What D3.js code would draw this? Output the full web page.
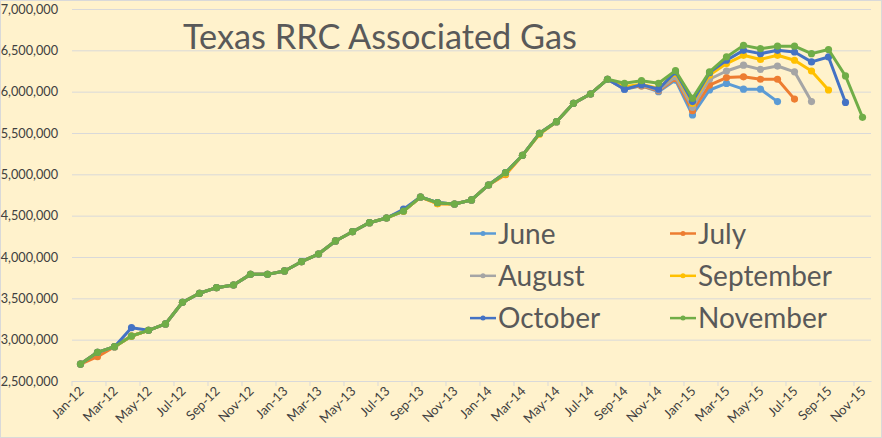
<!doctype html>
<html lang="en">
  <head>
    <meta charset="UTF-8" />
    <title>Texas RRC Associated Gas</title>
    <style>
      body {
        margin: 0;
        overflow: hidden;
        background: #fff;
      }
      svg {
        display: block;
      }
      .axis text {
        font-family: Lato, "Liberation Sans", sans-serif;
        fill: #404040;
      }
    </style>
  </head>
  <body>
    <script src="https://cdnjs.cloudflare.com/ajax/libs/d3/7.8.5/d3.min.js"></script>
    <script>
      // monthly categories Jan-12 .. Nov-15
      const months = d3.utcMonth
        .range(new Date(Date.UTC(2012, 0, 1)), new Date(Date.UTC(2015, 11, 1)))
        .map(d3.utcFormat("%b-%y"));

      // values in thousands of mcf/day
      const june = [2705, 2847, 2915, 3044, 3113, 3190, 3452, 3561, 3629, 3661, 3790, 3790,
        3831, 3943, 4036, 4194, 4306, 4415, 4472, 4556, 4726, 4657, 4641, 4690,
        4871, 5020, 5230, 5496, 5637, 5859, 5972, 6150, 6030, 6070, 6000, 6140,
        5718, 6020, 6100, 6030, 6030, 5880];
      const july = [2705, 2794, 2915, 3044, 3113, 3190, 3452, 3561, 3629, 3661, 3790, 3790,
        3831, 3943, 4036, 4194, 4306, 4415, 4472, 4556, 4726, 4645, 4641, 4690,
        4871, 4995, 5230, 5496, 5637, 5859, 5972, 6150, 6040, 6070, 6010, 6160,
        5770, 6080, 6170, 6180, 6150, 6150, 5910];
      const august = [2705, 2847, 2915, 3044, 3113, 3190, 3452, 3561, 3629, 3661, 3790, 3790,
        3831, 3943, 4036, 4194, 4306, 4415, 4472, 4556, 4726, 4657, 4641, 4690,
        4871, 5020, 5230, 5496, 5637, 5859, 5972, 6150, 6050, 6080, 6020, 6180,
        5810, 6150, 6250, 6320, 6270, 6310, 6240, 5880];
      const september = [2705, 2847, 2915, 3044, 3113, 3190, 3452, 3561, 3629, 3661, 3790, 3790,
        3831, 3943, 4036, 4194, 4306, 4415, 4472, 4556, 4726, 4645, 4641, 4690,
        4871, 5005, 5230, 5485, 5637, 5859, 5972, 6150, 6060, 6090, 6040, 6220,
        5860, 6200, 6340, 6440, 6390, 6440, 6380, 6250, 6020];
      const october = [2705, 2847, 2915, 3145, 3113, 3190, 3452, 3561, 3629, 3661, 3790, 3790,
        3831, 3943, 4036, 4194, 4306, 4415, 4472, 4578, 4726, 4657, 4641, 4690,
        4871, 5020, 5230, 5496, 5637, 5859, 5972, 6150, 6030, 6085, 6030, 6240,
        5880, 6230, 6380, 6500, 6460, 6500, 6480, 6360, 6420, 5870];
      const november = [2705, 2847, 2915, 3044, 3113, 3190, 3452, 3561, 3629, 3661, 3790, 3790,
        3831, 3943, 4036, 4194, 4306, 4415, 4472, 4556, 4726, 4657, 4641, 4690,
        4871, 5020, 5230, 5496, 5637, 5859, 5972, 6150, 6101, 6133, 6101, 6254,
        5920, 6240, 6420, 6560, 6520, 6550, 6550, 6460, 6510, 6190, 5690];

      const seriesNames = ["June", "July", "August", "September", "October", "November"];
      const seriesValues = [june, july, august, september, october, november];
      const colors = ["#5B9BD5", "#ED7D31", "#A5A5A5", "#FFC000", "#4472C4", "#70AD47"];
      const yTicks = [2500, 3000, 3500, 4000, 4500, 5000, 5500, 6000, 6500, 7000];

      const width = 882;
      const height = 438;
      const plotLeft = 72, plotRight = 871, plotTop = 9, plotBottom = 381;

      const svg = d3.select("body").append("svg")
        .attr("width", width)
        .attr("height", height);

      svg.append("rect")
        .attr("x", 0.5).attr("y", 0.5)
        .attr("width", width - 1).attr("height", height - 1)
        .attr("fill", "#FFF2CC")
        .attr("stroke", "#D9D9D9");

      const x = d3.scaleBand().domain(months).range([plotLeft, plotRight]).padding(0);
      const y = d3.scaleLinear().domain([2500, 7000]).range([plotBottom, plotTop]);
      const cx = (m) => x(m) + x.bandwidth() / 2;

      // gridlines
      const grid = svg.append("g")
        .attr("transform", `translate(${plotLeft},0)`)
        .call(d3.axisLeft(y).tickValues(yTicks).tickSize(-(plotRight - plotLeft)).tickFormat(""));
      grid.select(".domain").remove();
      grid.selectAll("line").attr("stroke", "#D9D9D9");

      // y labels
      const yAxis = svg.append("g")
        .attr("class", "axis")
        .attr("transform", `translate(${plotLeft},0)`)
        .call(d3.axisLeft(y).tickValues(yTicks).tickSize(0).tickPadding(14)
          .tickFormat((d) => d3.format(",")(d * 1000)));
      yAxis.select(".domain").remove();
      yAxis.selectAll("text").attr("font-size", 12.7);

      // x axis
      const xAxis = svg.append("g")
        .attr("class", "axis")
        .attr("transform", `translate(0,${plotBottom})`)
        .call(d3.axisBottom(x)
          .tickValues(months.filter((d, i) => i % 2 === 0))
          .tickSize(5).tickSizeOuter(0));
      xAxis.select(".domain").attr("stroke", "#D9D9D9");
      xAxis.selectAll(".tick line")
        .attr("stroke", "#D9D9D9")
        .attr("transform", `translate(${-x.bandwidth() / 2},0)`);
      xAxis.selectAll(".tick text")
        .attr("y", null).attr("dy", null)
        .attr("text-anchor", "end")
        .attr("font-size", 13)
        .attr("transform", "translate(4,11) rotate(-45)");

      // lines and markers, November drawn last (on top)
      const line = d3.line()
        .x((d, i) => cx(months[i]))
        .y((d) => y(d));

      seriesValues.forEach((vals, k) => {
        const g = svg.append("g");
        g.append("path")
          .datum(vals)
          .attr("fill", "none")
          .attr("stroke", colors[k])
          .attr("stroke-width", 3)
          .attr("stroke-linejoin", "round")
          .attr("d", line);
        g.selectAll("circle")
          .data(vals)
          .join("circle")
          .attr("cx", (d, i) => cx(months[i]))
          .attr("cy", (d) => y(d))
          .attr("r", 3.6)
          .attr("fill", colors[k]);
      });

      // title, sized to the reference width
      const title = svg.append("text")
        .attr("x", 183).attr("y", 49)
        .attr("font-family", "Lato, 'Liberation Sans', sans-serif")
        .attr("font-size", 34)
        .attr("fill", "#595959")
        .text("Texas RRC Associated Gas");
      const tw = title.node().getComputedTextLength();
      title.attr("font-size", 34 * 394 / tw);

      // legend
      const legend = svg.append("g");
      seriesNames.forEach((name, k) => {
        const lx = 470 + (k % 2) * 200;
        const ly = 233.5 + Math.floor(k / 2) * 42.3;
        legend.append("line")
          .attr("x1", lx).attr("x2", lx + 26)
          .attr("y1", ly).attr("y2", ly)
          .attr("stroke", colors[k])
          .attr("stroke-width", 2.5);
        legend.append("circle")
          .attr("cx", lx + 13).attr("cy", ly).attr("r", 2.5)
          .attr("fill", colors[k]);
        legend.append("text")
          .attr("x", lx + 28).attr("y", ly)
          .attr("dy", "0.36em")
          .attr("font-family", "Lato, 'Liberation Sans', sans-serif")
          .attr("font-size", 28)
          .attr("fill", "#595959")
          .text(name);
      });
    </script>
  </body>
</html>
